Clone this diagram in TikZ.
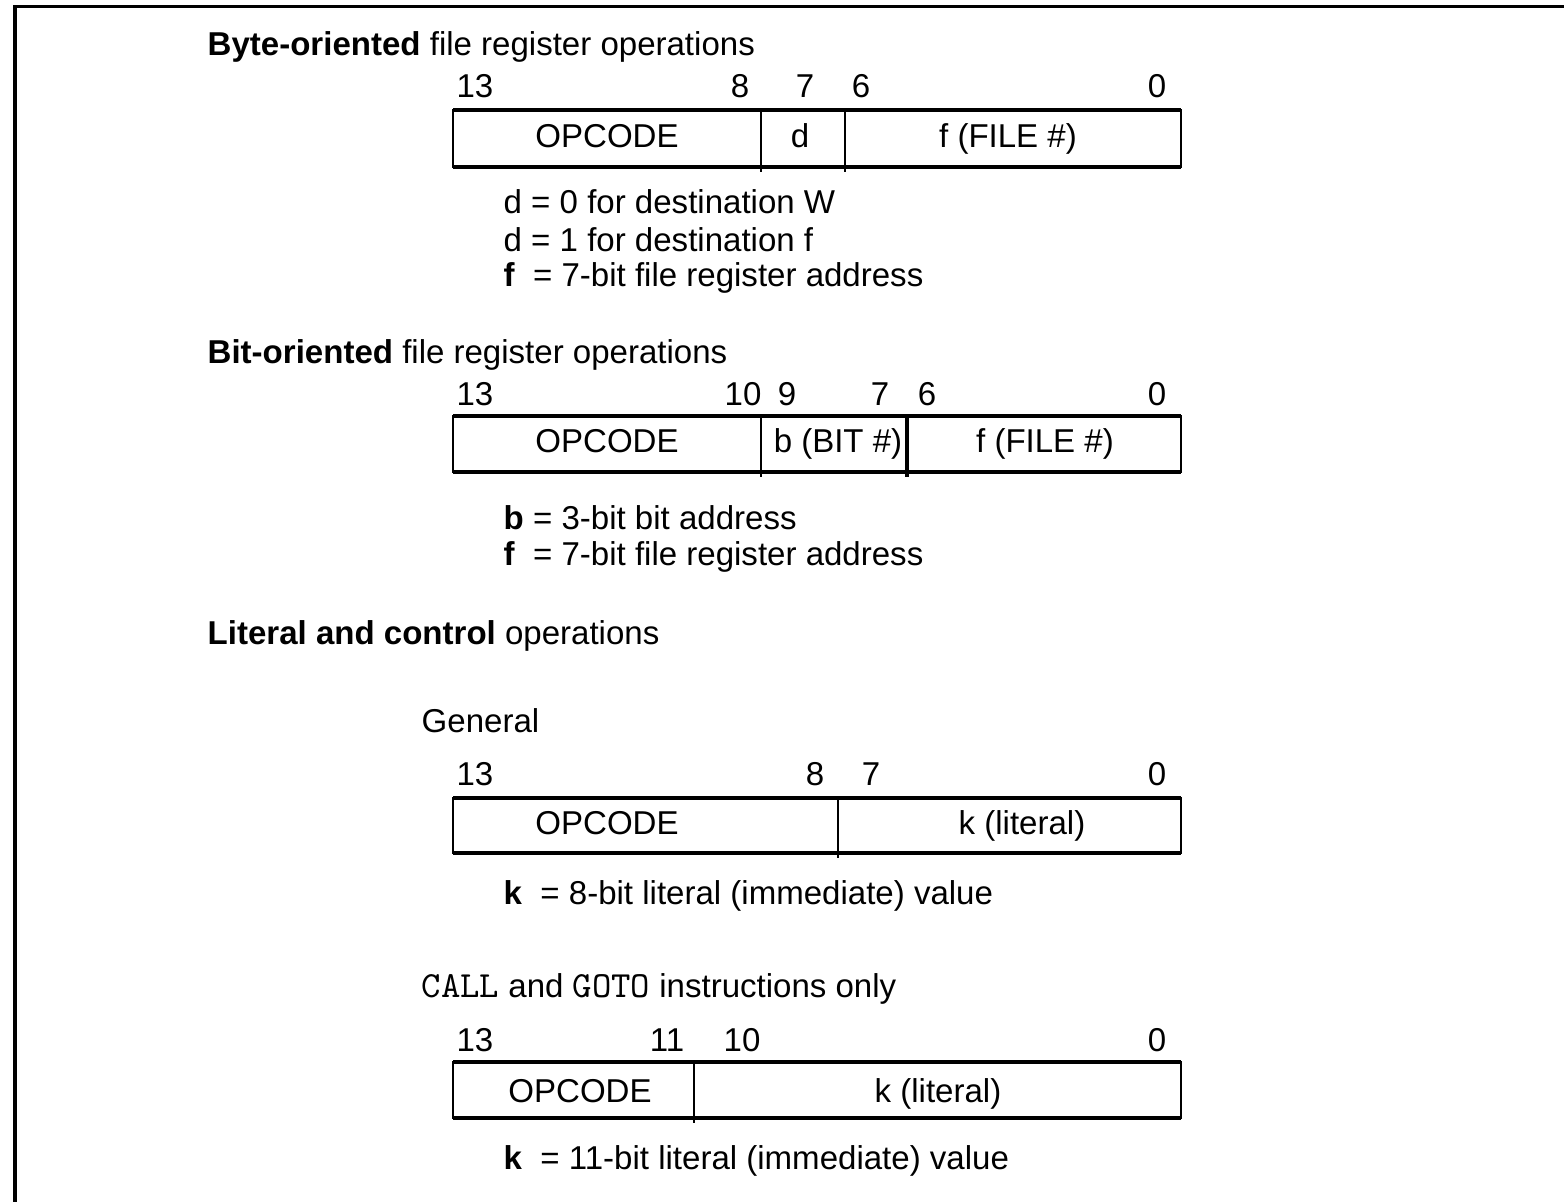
\documentclass[tikz,border=0pt]{standalone}
\usepackage{fontspec}
\setmainfont{Liberation Sans}
\newcommand\mnem[1]{{\ttfamily\fontsize{10.5}{11}\selectfont #1}}
\begin{document}
\begin{tikzpicture}[x=1cm,y=-1cm,line cap=butt,font=\fontsize{9.4}{11}\selectfont]
	\useasboundingbox (0,0) rectangle (15.64,12.02);
	\tikzset{txt/.style={inner sep=0pt,anchor=base west},
		bitno/.style={inner sep=0pt,anchor=base},
		regside/.style={line width=0.5pt},
		regedge/.style={line width=1pt},
		divider/.style={line width=0.45pt}}
	\def\l{4.53}\def\r{11.81}
	% frame
	\draw[line width=1.1pt] (0.15,12.02) -- (0.15,0.065) -- (15.64,0.065);
	% byte-oriented
	\node[txt] (bytetitle) at (2.07,0.56) {\textbf{Byte-oriented} file register operations};
	\foreach \n/\x [count=\i] in {13/4.75,8/7.40,7/8.05,6/8.61,0/11.57}{\node[bitno] (bytebit\i) at (\x,0.98) {\n};}
	\draw[regside] (\l,1.10) rectangle (\r,1.67);
	\draw[regedge] (\l,1.10) -- (\r,1.10) (\l,1.67) -- (\r,1.67);
	\foreach \x in {7.61,8.45}{\draw[divider] (\x,1.10) -- (\x,1.72);}
	\node[bitno] (byteop) at (6.07,1.48) {OPCODE};
	\node[bitno] (byted) at (8.00,1.48) {d};
	\node[bitno] (bytef) at (10.08,1.48) {f (FILE \#)};
	\node[txt] (bytedw) at (5.03,2.14) {d = 0 for destination W};
	\node[txt] (bytedf) at (5.03,2.52) {d = 1 for destination f};
	\node[txt] (byteff) at (5.03,2.87) {\textbf{f}\ \ = 7-bit file register address};
	% bit-oriented
	\node[txt] (bittitle) at (2.07,3.64) {\textbf{Bit-oriented} file register operations};
	\foreach \n/\x [count=\i] in {13/4.75,10/7.43,9/7.87,7/8.80,6/9.27,0/11.57}{\node[bitno] (bitbit\i) at (\x,4.06) {\n};}
	\draw[regside] (\l,4.16) rectangle (\r,4.72);
	\draw[regedge] (\l,4.16) -- (\r,4.16) (\l,4.72) -- (\r,4.72);
	\draw[divider] (7.61,4.16) -- (7.61,4.77);
	\draw[line width=1pt] (9.07,4.16) -- (9.07,4.77);
	\node[bitno] (bitop) at (6.07,4.53) {OPCODE};
	\node[bitno] (bitb) at (8.38,4.53) {b (BIT \#)};
	\node[bitno] (bitf) at (10.45,4.53) {f (FILE \#)};
	\node[txt] (bitbb) at (5.03,5.30) {\textbf{b} = 3-bit bit address};
	\node[txt] (bitff) at (5.03,5.66) {\textbf{f}\ \ = 7-bit file register address};
	% literal and control
	\node[txt] (littitle) at (2.07,6.45) {\textbf{Literal and control} operations};
	\node[txt] (gentitle) at (4.21,7.33) {General};
	\foreach \n/\x [count=\i] in {13/4.75,8/8.15,7/8.71,0/11.57}{\node[bitno] (genbit\i) at (\x,7.86) {\n};}
	\draw[regside] (\l,7.98) rectangle (\r,8.53);
	\draw[regedge] (\l,7.98) -- (\r,7.98) (\l,8.53) -- (\r,8.53);
	\draw[divider] (8.38,7.98) -- (8.38,8.58);
	\node[bitno] (genop) at (6.07,8.35) {OPCODE};
	\node[bitno] (genk) at (10.22,8.35) {k (literal)};
	\node[txt] (genkk) at (5.03,9.05) {\textbf{k}\ \ = 8-bit literal (immediate) value};
	\node[txt] (calltitle) at (4.21,9.98) {\mnem{CALL} and \mnem{GOTO} instructions only};
	\foreach \n/\x [count=\i] in {13/4.75,11/6.67,10/7.42,0/11.57}{\node[bitno] (callbit\i) at (\x,10.52) {\n};}
	\draw[regside] (\l,10.62) rectangle (\r,11.18);
	\draw[regedge] (\l,10.62) -- (\r,10.62) (\l,11.18) -- (\r,11.18);
	\draw[divider] (6.94,10.62) -- (6.94,11.23);
	\node[bitno] (callop) at (5.80,11.03) {OPCODE};
	\node[bitno] (callk) at (9.38,11.03) {k (literal)};
	\node[txt] (callkk) at (5.03,11.70) {\textbf{k}\ \ = 11-bit literal (immediate) value};
\end{tikzpicture}
\end{document}
